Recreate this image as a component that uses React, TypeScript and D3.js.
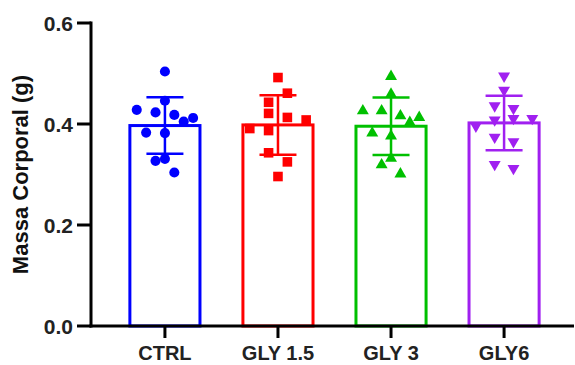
import React, { useRef, useEffect } from 'react';
import * as d3 from 'd3';

const categories = ['CTRL', 'GLY 1.5', 'GLY 3', 'GLY6'];
const colors = ['#0000ff', '#ff0000', '#00c000', '#a020f0'];

// individual animals (g) and the column each dot sits in
const ctrlValues = [0.504, 0.446, 0.428, 0.423, 0.418, 0.412, 0.405, 0.383, 0.382, 0.331, 0.327, 0.304];
const ctrlSlots = [0, 0, -3, -1, 1, 3, 2, -2, 0, 0, -1, 1];
const gly15Values = [0.492, 0.461, 0.443, 0.421, 0.413, 0.408, 0.391, 0.387, 0.343, 0.325, 0.296];
const gly15Slots = [0, 1, -1, -1, 1, 3, -3, -1, -1, 1, 0];
const gly3Values = [0.494, 0.459, 0.426, 0.426, 0.416, 0.413, 0.403, 0.382, 0.376, 0.332, 0.319, 0.301];
const gly3Slots = [0, 0, -3, -1, 1, 3, 2, -2, 0, 0, -1, 1];
const gly6Values = [0.495, 0.467, 0.436, 0.431, 0.411, 0.408, 0.411, 0.396, 0.374, 0.365, 0.320, 0.312];
const gly6Slots = [0, 0, -1, 1, 1, -1, 3, -3, -1, 1, -1, 1];

const yTicks = [0, 0.2, 0.4, 0.6];

const groups = [
  { values: ctrlValues, slots: ctrlSlots },
  { values: gly15Values, slots: gly15Slots },
  { values: gly3Values, slots: gly3Slots },
  { values: gly6Values, slots: gly6Slots },
];

const FONT = "'Liberation Sans', Arial, sans-serif";

export default function App() {
  const svgRef = useRef<SVGSVGElement>(null);

  useEffect(() => {
    if (!svgRef.current) return;
    const W = 575;
    const H = 365;

    d3.select(svgRef.current).selectAll("*").remove();
    const svg = d3.select(svgRef.current)
      .attr("width", W)
      .attr("height", H);

    const xScale = d3.scaleBand<string>()
      .domain(categories)
      .range([108.4, 560.6])
      .paddingInner(0.38)
      .paddingOuter(0.19);

    const yScale = d3.scaleLinear()
      .domain([0, 0.6])
      .range([326, 23]);

    const axisX = 91;
    const jitter = xScale.bandwidth() * 0.134;

    const symbols = [
      d3.symbol().type(d3.symbolCircle).size(80),
      d3.symbol().type(d3.symbolSquare).size(92),
      d3.symbol().type(d3.symbolTriangle).size(62),
      d3.symbol().type(d3.symbolTriangle).size(62),
    ];

    groups.forEach((grp, i) => {
      const cat = categories[i];
      const color = colors[i];
      const x0 = xScale(cat) ?? 0;
      const cx = x0 + xScale.bandwidth() / 2;
      const mean = d3.mean(grp.values) ?? 0;
      const sd = d3.deviation(grp.values) ?? 0;

      // bar outline
      svg.append("rect")
        .attr("x", x0)
        .attr("y", yScale(mean))
        .attr("width", xScale.bandwidth())
        .attr("height", yScale(0) - yScale(mean))
        .attr("fill", "#fff")
        .attr("stroke", color)
        .attr("stroke-width", 3);

      // error bar (mean ± SD)
      const eb = svg.append("g")
        .attr("stroke", color)
        .attr("stroke-width", 2.5);
      eb.append("line")
        .attr("x1", cx).attr("x2", cx)
        .attr("y1", yScale(mean - sd)).attr("y2", yScale(mean + sd));
      [mean - sd, mean + sd].forEach((v) => {
        eb.append("line")
          .attr("x1", cx - 18.5).attr("x2", cx + 18.5)
          .attr("y1", yScale(v)).attr("y2", yScale(v));
      });

      // points
      grp.values.forEach((v, j) => {
        svg.append("path")
          .attr("d", symbols[i]()!)
          .attr("fill", color)
          .attr("transform", `translate(${cx + grp.slots[j] * jitter},${yScale(v)})${i === 3 ? " rotate(180)" : ""}`);
      });
    });

    // y axis
    svg.append("line")
      .attr("x1", axisX).attr("x2", axisX)
      .attr("y1", yScale(0.6) - 1.5).attr("y2", yScale(0) + 1.5)
      .attr("stroke", "#000").attr("stroke-width", 3);

    yTicks.forEach((t) => {
      svg.append("line")
        .attr("x1", axisX - 14).attr("x2", axisX)
        .attr("y1", yScale(t)).attr("y2", yScale(t))
        .attr("stroke", "#000").attr("stroke-width", 3);
      svg.append("text")
        .attr("x", axisX - 18)
        .attr("y", yScale(t))
        .attr("dy", "0.36em")
        .attr("text-anchor", "end")
        .attr("font-family", FONT)
        .attr("font-weight", "bold")
        .attr("font-size", "21px")
        .attr("fill", "#222")
        .text(t.toFixed(1));
    });

    // x axis
    svg.append("line")
      .attr("x1", axisX - 1.5).attr("x2", 574)
      .attr("y1", yScale(0)).attr("y2", yScale(0))
      .attr("stroke", "#000").attr("stroke-width", 3);

    categories.forEach((cat) => {
      const cx = (xScale(cat) ?? 0) + xScale.bandwidth() / 2;
      svg.append("line")
        .attr("x1", cx).attr("x2", cx)
        .attr("y1", yScale(0)).attr("y2", yScale(0) + 12)
        .attr("stroke", "#000").attr("stroke-width", 3);
      svg.append("text")
        .attr("x", cx)
        .attr("y", 360)
        .attr("text-anchor", "middle")
        .attr("font-family", FONT)
        .attr("font-weight", "bold")
        .attr("font-size", "20px")
        .attr("fill", "#222")
        .text(cat);
    });

    // axis title
    svg.append("text")
      .attr("transform", `translate(28,${(yScale(0) + yScale(0.6)) / 2}) rotate(-90)`)
      .attr("text-anchor", "middle")
      .attr("font-family", FONT)
      .attr("font-weight", "bold")
      .attr("font-size", "22px")
      .attr("fill", "#111")
      .text("Massa Corporal (g)");
  }, []);

  return (
    <div style={{ position: 'absolute', left: 0, top: 0, width: 575, height: 365, background: '#fff' }}>
      <svg ref={svgRef} style={{ display: 'block' }} />
    </div>
  );
}
